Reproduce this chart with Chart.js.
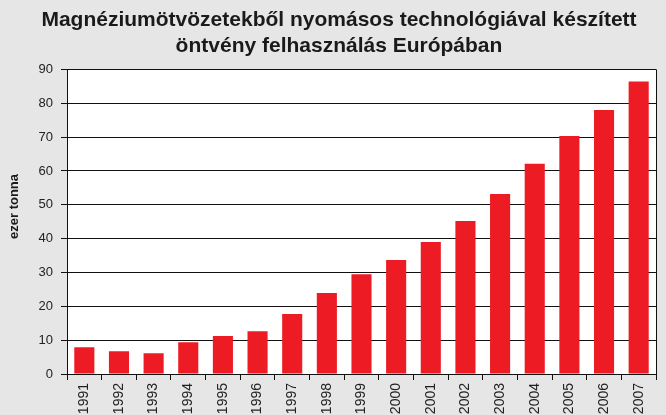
<!DOCTYPE html>
<html><head><meta charset="utf-8">
<script src="https://cdn.jsdelivr.net/npm/chart.js@4/dist/chart.umd.min.js"></script>
<style>html,body{margin:0;padding:0;background:#e6e6e6;}#wrap{width:666px;height:415px;}</style>
</head><body><div id="wrap"><canvas id="c" width="666" height="415"></canvas></div>
<script>
const years = ["1991","1992","1993","1994","1995","1996","1997","1998","1999","2000","2001","2002","2003","2004","2005","2006","2007"];
const values = [7.9, 6.7, 6.1, 9.4, 11.2, 12.6, 17.7, 23.9, 29.5, 33.7, 39.0, 45.2, 53.2, 62.1, 70.3, 78.0, 86.4];
const yTicks = [0,10,20,30,40,50,60,70,80,90];
const titleLines = ["Magnéziumötvözetekből nyomásos technológiával készített","öntvény felhasználás Európában"];
const yTitle = "ezer tonna";

const bgPlugin = {
  id: 'bg',
  beforeDraw(chart) {
    const {ctx, chartArea: a} = chart;
    ctx.save();
    ctx.fillStyle = '#e6e6e6';
    ctx.fillRect(0, 0, chart.width, chart.height);
    ctx.fillStyle = '#ffffff';
    ctx.fillRect(a.left, a.top, a.right - a.left, a.bottom - a.top);
    ctx.restore();
  },
  afterDatasetsDraw(chart) {
    const {ctx, chartArea: a} = chart;
    ctx.save();
    ctx.strokeStyle = '#111';
    ctx.lineWidth = 1;
    ctx.beginPath();
    ctx.moveTo(Math.round(a.right) + 0.5, a.top);
    ctx.lineTo(Math.round(a.right) + 0.5, a.bottom);
    ctx.stroke();
    // y axis title
    const ys = chart.scales.y;
    const cy = ys.getPixelForValue(49.5);
    ctx.translate(14, cy);
    ctx.rotate(-Math.PI / 2);
    ctx.fillStyle = '#1a1a1a';
    ctx.font = 'bold 13px "Liberation Sans", Arial, sans-serif';
    ctx.textAlign = 'center';
    ctx.textBaseline = 'middle';
    ctx.fillText(yTitle, 0, 0);
    ctx.restore();
  }
};

new Chart(document.getElementById('c'), {
  type: 'bar',
  data: {
    labels: years,
    datasets: [{ data: values, backgroundColor: '#ed1c24', borderWidth: 0, barPercentage: 0.58, categoryPercentage: 1.0 }]
  },
  options: {
    responsive: false,
    animation: false,
    layout: { padding: { left: 22, right: 10, top: 0, bottom: 0 } },
    plugins: {
      legend: { display: false },
      tooltip: { enabled: false },
      title: {
        display: true,
        text: titleLines,
        color: '#1a1a1a',
        font: { family: 'Liberation Sans, Arial, sans-serif', size: 21, weight: 'bold', lineHeight: 1.2 },
        padding: { top: 8, bottom: 11 }
      }
    },
    scales: {
      x: {
        grid: { display: true, drawOnChartArea: false, drawTicks: true, tickLength: 6, color: '#111', offset: true },
        border: { display: true, color: '#111', width: 1 },
        ticks: { minRotation: 90, maxRotation: 90, color: '#222', padding: 3, autoSkip: false,
                 font: { family: 'Liberation Sans, Arial, sans-serif', size: 14 } },
        afterFit(s) { s.height = 41; }
      },
      y: {
        min: 0, max: 90,
        afterBuildTicks(s) { s.ticks = yTicks.map(v => ({ value: v })); },
        grid: { color: '#111', lineWidth: 1, tickLength: 6, drawTicks: true },
        border: { display: true, color: '#111', width: 1 },
        ticks: { color: '#222', padding: 8, font: { family: 'Liberation Sans, Arial, sans-serif', size: 13 } },
        afterFit(s) { s.width = 45; }
      }
    }
  },
  plugins: [bgPlugin]
});
</script></body></html>
